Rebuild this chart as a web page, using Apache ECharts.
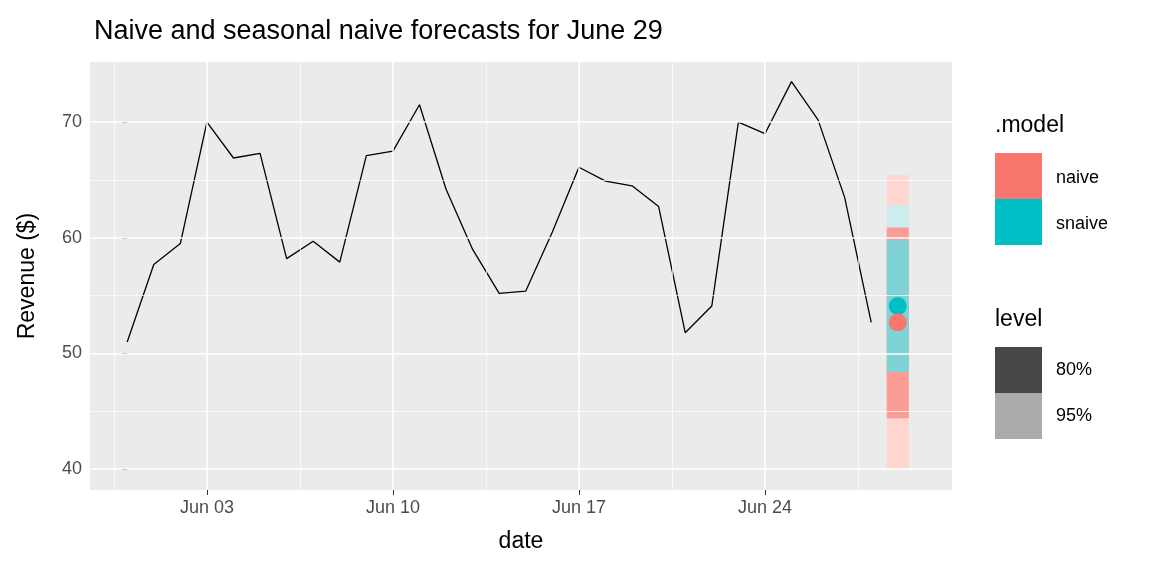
<!DOCTYPE html>
<html><head><meta charset="utf-8">
<script src="https://cdn.jsdelivr.net/npm/echarts@6/dist/echarts.min.js"></script>
<style>html,body{margin:0;padding:0;background:#fff}#c{width:1152px;height:576px}</style>
</head><body><div id="c"></div>
<script>
// day index: 0 = May 31, 3 = Jun 03
const days = [0,1,2,3,4,5,6,7,8,9,10,11,12,13,14,15,16,17,18,19,20,21,22,23,24,25,26,27,28];
const revenue = [51.0,57.7,59.5,70.0,66.9,67.3,58.2,59.7,57.9,67.1,67.5,71.5,64.2,59.0,55.2,55.4,60.5,66.1,64.9,64.5,62.7,51.8,54.1,70.0,69.0,73.5,70.2,63.5,52.7];
const fcDay = 29;
const naivePoint = 52.7, snaivePoint = 54.1;
// intervals [low, high, color], drawn in order
const intervals = [
  [40.0, 65.4, '#FFD5D0'], // naive 95%
  [45.6, 62.8, '#CCEDEE'], // snaive 95%
  [44.4, 60.9, '#FC9D95'], // naive 80%
  [48.4, 59.8, '#7FD3D4']  // snaive 80%
];
const xTicks = [3,10,17,24];
const xTickLabels = ['Jun 03','Jun 10','Jun 17','Jun 24'];
const xMinor = [-0.5,6.5,13.5,20.5,27.5];
const yTicks = [40,50,60,70];
const yMinor = [45,55,65];
const XMIN=-1.4, XMAX=31.04, YMIN=38.2, YMAX=75.2;

const gl = [];
xMinor.forEach(v=>gl.push({xAxis:v,lineStyle:{width:0.7}}));
xTicks.forEach(v=>gl.push({xAxis:v,lineStyle:{width:1.5}}));
yMinor.forEach(v=>gl.push({yAxis:v,lineStyle:{width:0.7}}));
yTicks.forEach(v=>gl.push({yAxis:v,lineStyle:{width:1.5}}));

const F='Liberation Sans, Arial';
const chart = echarts.init(document.getElementById('c'));
chart.setOption({
  animation:false,
  title:{text:'Naive and seasonal naive forecasts for June 29',left:89,top:13,textStyle:{fontFamily:F,fontSize:27,fontWeight:'normal',color:'#000'}},
  grid:{left:90,right:200,top:62,bottom:86,backgroundColor:'#EBEBEB',show:true,borderWidth:0},
  xAxis:{type:'value',min:XMIN,max:XMAX,name:'date',nameLocation:'middle',nameGap:40,
    nameTextStyle:{fontFamily:F,fontSize:23,color:'#000'},
    axisLine:{show:false},splitLine:{show:false},
    axisTick:{customValues:xTicks,length:5,lineStyle:{color:'#333'}},
    axisLabel:{customValues:xTicks,formatter:v=>xTickLabels[xTicks.indexOf(v)],fontFamily:F,fontSize:18,color:'#4D4D4D',margin:9}},
  yAxis:{type:'value',min:YMIN,max:YMAX,name:'Revenue ($)',nameLocation:'middle',nameGap:51,
    nameTextStyle:{fontFamily:F,fontSize:23,color:'#000'},
    axisLine:{show:false},splitLine:{show:false},
    axisTick:{show:true,customValues:yTicks,length:5,lineStyle:{color:'#333'}},
    axisLabel:{customValues:yTicks,fontFamily:F,fontSize:18,color:'#4D4D4D',margin:8}},
  series:[
    {type:'line',data:[],markLine:{silent:true,symbol:'none',label:{show:false},lineStyle:{color:'#fff',type:'solid'},data:gl}},
    {type:'custom',data:intervals.map(d=>[fcDay,d[0],d[1]]),
      renderItem:(params,api)=>{
        const lo=api.coord([api.value(0),api.value(1)]);
        const hi=api.coord([api.value(0),api.value(2)]);
        const w=api.size([0.83,0])[0];
        return {type:'rect',shape:{x:lo[0]-w/2,y:hi[1],width:w,height:lo[1]-hi[1]},style:{fill:intervals[params.dataIndex][2]}};
      },z:3},
    {type:'line',data:days.map((d,i)=>[d,revenue[i]]),showSymbol:false,lineStyle:{color:'#000',width:1.3},z:4},
    {type:'scatter',data:[[fcDay,snaivePoint]],symbolSize:18,itemStyle:{color:'#00BFC4',opacity:1},z:5},
    {type:'scatter',data:[[fcDay,naivePoint]],symbolSize:18,itemStyle:{color:'#F8766D',opacity:1},z:6}
  ],
  graphic:[
    {type:'text',left:995,top:114,style:{text:'.model',fontFamily:F,fontSize:23,fill:'#000'}},
    {type:'rect',shape:{x:995,y:153,width:47,height:46},style:{fill:'#F8766D'}},
    {type:'rect',shape:{x:995,y:199,width:47,height:46},style:{fill:'#00BFC4'}},
    {type:'text',left:1056,top:169,style:{text:'naive',fontFamily:F,fontSize:18,fill:'#000'}},
    {type:'text',left:1056,top:215,style:{text:'snaive',fontFamily:F,fontSize:18,fill:'#000'}},
    {type:'text',left:995,top:308,style:{text:'level',fontFamily:F,fontSize:23,fill:'#000'}},
    {type:'rect',shape:{x:995,y:347,width:47,height:46},style:{fill:'#474747'}},
    {type:'rect',shape:{x:995,y:393,width:47,height:46},style:{fill:'#ABABAB'}},
    {type:'text',left:1056,top:361,style:{text:'80%',fontFamily:F,fontSize:18,fill:'#000'}},
    {type:'text',left:1056,top:407,style:{text:'95%',fontFamily:F,fontSize:18,fill:'#000'}}
  ]
});
</script></body></html>
